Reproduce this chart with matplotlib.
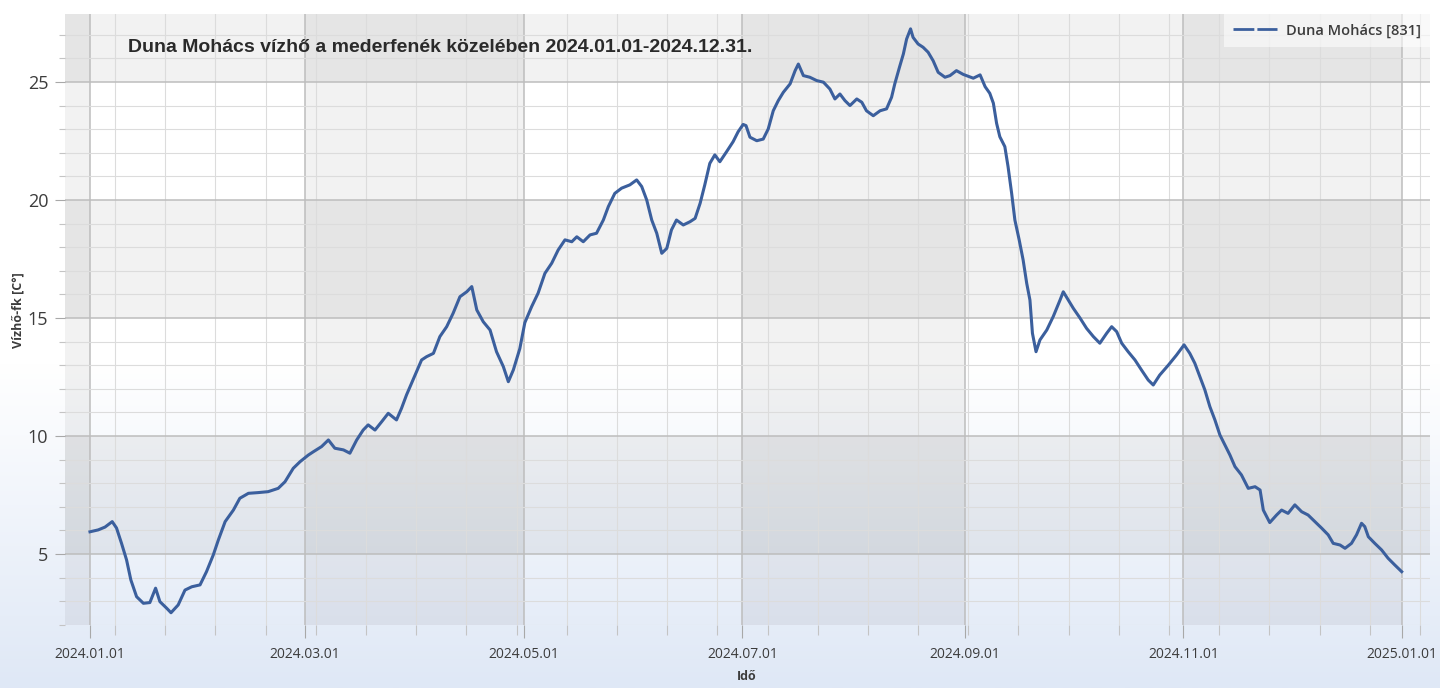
import numpy as np
import pandas as pd
import matplotlib
matplotlib.use("Agg")
import matplotlib.pyplot as plt
import matplotlib.dates as mdates
from matplotlib.colors import LinearSegmentedColormap
from matplotlib.lines import Line2D

# Duna Mohács water temperature near the riverbed, 2024
# day offset from 2024-01-01 and temperature [°C]
days = [
    0.0, 2.3, 4.2, 6.2, 7.4, 8.8, 10.2, 11.4, 13.0, 14.9, 16.7, 18.3, 19.5, 21.4,
    22.6, 24.6, 26.5, 28.4, 30.7, 32.5, 34.4, 35.8, 37.7, 40.0, 41.8, 44.2, 46.9,
    49.7, 52.5, 54.4, 56.7, 58.6, 60.9, 62.3, 64.6, 66.5, 68.3, 70.7, 72.5, 74.4,
    76.2, 77.6, 79.5, 81.4, 83.2, 85.5, 86.9, 88.3, 90.7, 92.5, 93.9, 95.8, 97.6,
    99.5, 101.3, 103.2, 105.1, 106.5, 107.9, 109.7, 111.6, 113.4, 115.3, 116.7,
    118.1, 119.9, 121.3, 123.2, 125.0, 126.9, 128.8, 130.6, 132.5, 134.4, 135.8,
    137.6, 139.5, 141.3, 143.2, 144.6, 146.4, 148.3, 150.6, 152.5, 153.9, 155.3,
    156.7, 158.1, 159.5, 160.9, 162.2, 163.6, 165.5, 167.4, 168.8, 170.2, 171.5,
    172.9, 174.3, 175.7, 177.6, 179.4, 180.8, 182.2, 183.0, 184.1, 186.0, 187.8,
    189.2, 190.6, 192.0, 193.4, 195.3, 196.7, 197.6, 199.0, 200.8, 202.7, 204.6,
    206.4, 207.8, 209.2, 210.6, 212.0, 213.9, 215.3, 216.6, 218.5, 220.4, 222.2,
    223.6, 224.5, 225.8, 226.9, 227.8, 228.9, 229.6, 231.0, 232.4, 233.8, 235.2,
    236.6, 238.5, 239.9, 241.7, 243.6, 246.4, 248.3, 249.7, 251.0, 252.0, 252.9,
    253.8, 255.2, 256.1, 257.1, 258.0, 259.2, 260.3, 261.3, 262.2, 262.9, 263.9,
    265.0, 266.9, 268.7, 270.6, 271.5, 272.9, 274.3, 276.2, 278.0, 279.9, 281.7,
    283.6, 285.0, 286.4, 287.8, 289.6, 291.5, 293.3, 295.2, 296.6, 298.4, 300.8,
    303.1, 305.2, 306.8, 308.2, 309.6, 311.0, 312.4, 313.8, 315.2, 316.6, 318.0,
    319.4, 321.2, 323.1, 325.0, 326.4, 327.3, 329.1, 331.0, 332.4, 334.2, 336.1,
    338.0, 339.8, 341.7, 343.6, 345.4, 346.8, 348.7, 350.1, 351.9, 353.3, 354.7,
    355.6, 356.6, 358.4, 360.3, 362.1, 364.0, 365.9,
]
temps = [
    5.94, 6.02, 6.14, 6.37, 6.10, 5.45, 4.75, 3.90, 3.19, 2.91, 2.94, 3.55, 2.98, 2.70,
    2.51, 2.84, 3.47, 3.61, 3.69, 4.25, 4.96, 5.59, 6.37, 6.86, 7.36, 7.57, 7.60,
    7.64, 7.78, 8.06, 8.63, 8.91, 9.19, 9.33, 9.55, 9.83, 9.48, 9.41, 9.27, 9.83,
    10.25, 10.47, 10.25, 10.61, 10.96, 10.68, 11.17, 11.74, 12.58, 13.22, 13.36, 13.50, 14.21,
    14.63, 15.20, 15.90, 16.11, 16.33, 15.34, 14.84, 14.49, 13.57, 12.94, 12.30,
    12.80, 13.70, 14.80, 15.48, 16.05, 16.89, 17.32, 17.88, 18.31, 18.23, 18.44,
    18.23, 18.52, 18.59, 19.15, 19.72, 20.28, 20.50, 20.64, 20.85, 20.57, 20.00,
    19.15, 18.59, 17.74, 17.95, 18.73, 19.15, 18.94, 19.08, 19.22, 19.86, 20.64,
    21.55, 21.91, 21.62, 22.05, 22.47, 22.89, 23.20, 23.15, 22.66, 22.51, 22.58,
    23.01, 23.78, 24.21, 24.56, 24.92, 25.48, 25.76, 25.27, 25.20, 25.06, 24.99,
    24.70, 24.28, 24.49, 24.21, 24.00, 24.28, 24.14, 23.78, 23.57, 23.78, 23.86,
    24.35, 24.92, 25.62, 26.19, 26.82, 27.25, 26.89, 26.61, 26.47, 26.26, 25.90,
    25.41, 25.20, 25.27, 25.48, 25.32, 25.16, 25.30, 24.80, 24.52, 24.10, 23.25,
    22.68, 22.26, 21.41, 20.28, 19.15, 18.31, 17.46, 16.47, 15.76, 14.35, 13.57,
    14.07, 14.49, 15.06, 15.76, 16.11, 15.76, 15.41, 14.99, 14.56, 14.21, 13.93,
    14.35, 14.63, 14.42, 13.93, 13.57, 13.22, 12.80, 12.37, 12.16, 12.58, 13.00,
    13.43, 13.86, 13.50, 13.08, 12.51, 11.95, 11.24, 10.68, 10.04, 9.62, 9.19,
    8.70, 8.35, 7.78, 7.85, 7.71, 6.86, 6.33, 6.65, 6.86, 6.72, 7.08,
    6.79, 6.65, 6.37, 6.09, 5.81, 5.45, 5.38, 5.24, 5.45, 5.81, 6.30,
    6.16, 5.73, 5.45, 5.17, 4.82, 4.53, 4.25,
]

title = "Duna Mohács vízhő a mederfenék közelében 2024.01.01-2024.12.31."
series_name = "Duna Mohács [831]"
y_label = "Vízhő-fk [C°]"
x_label = "Idő"

line_color = "#3b5f9d"
text_color = "#3c3c3c"
start = pd.Timestamp("2024-01-01")
times = start + pd.to_timedelta(days, unit="D")

fig = plt.figure(figsize=(14.4, 6.88), dpi=100, facecolor="white")

# vertical white -> light blue wash behind everything
bg = fig.add_axes([0, 0, 1, 1])
bg.set_zorder(-1)
wash = LinearSegmentedColormap.from_list(
    "wash", [(0, "#dfe8f6"), (0.47, "#ffffff"), (1, "#ffffff")])
bg.imshow(np.linspace(0, 1, 256).reshape(-1, 1), aspect="auto", cmap=wash,
          origin="lower", extent=[0, 1, 0, 1])
bg.axis("off")

ax_left, ax_top, ax_w, ax_h = 65, 14, 1365, 611
ax = fig.add_axes([ax_left / 1440, 1 - (ax_top + ax_h) / 688, ax_w / 1440, ax_h / 688])
ax.set_facecolor("none")

x0 = start - pd.Timedelta(days=6.97)
x1 = start + pd.Timedelta(days=373.8)
ax.set_xlim(x0, x1)
ax.set_ylim(1.99, 27.88)

# alternating shaded columns (2 months) and rows (5 degrees)
edges = [x0] + list(pd.date_range("2024-01-01", "2025-01-01", freq="2MS")) + [x1]
for i in range(len(edges) - 1):
    if i % 2 == 0:
        ax.axvspan(edges[i], edges[i + 1], color="black", alpha=0.05, lw=0, zorder=0)
for lo, hi in [(5, 10), (15, 20), (25, 27.88)]:
    ax.axhspan(lo, hi, color="black", alpha=0.05, lw=0, zorder=0)

ax.xaxis.set_major_locator(mdates.MonthLocator(bymonth=[1, 3, 5, 7, 9, 11]))
ax.xaxis.set_major_formatter(mdates.DateFormatter("%Y.%m.%d"))
minor_dates = pd.date_range("2023-12-25", "2025-01-10", freq="14D")
ax.xaxis.set_minor_locator(matplotlib.ticker.FixedLocator(mdates.date2num(minor_dates)))
ax.yaxis.set_major_locator(matplotlib.ticker.MultipleLocator(5))
ax.yaxis.set_minor_locator(matplotlib.ticker.MultipleLocator(1))

ax.grid(which="major", color="#bdbdbd", lw=1.1, zorder=1)
ax.grid(which="minor", color="#dcdcdc", lw=0.8, zorder=1)
ax.set_axisbelow(True)

for s in ax.spines.values():
    s.set_visible(False)

ax.tick_params(axis="x", which="major", length=9, width=0.8, color="#a8a8a8",
               pad=7, labelsize=10, labelcolor=text_color)
ax.tick_params(axis="x", which="minor", length=7, width=0.8, color="#c4c4c4")
ax.tick_params(axis="y", which="major", length=7, width=0.8, color="#a8a8a8",
               pad=5, labelsize=13, labelcolor=text_color)
ax.tick_params(axis="y", which="minor", length=4, width=0.8, color="#c4c4c4")
for lbl in ax.get_xticklabels() + ax.get_yticklabels():
    lbl.set_fontfamily("Open Sans")

ax.plot(times, temps, color=line_color, lw=2.2, zorder=3)

ax.text((128 - ax_left) / ax_w, 1 - (47 - ax_top) / ax_h, title, transform=ax.transAxes,
        fontsize=14, fontweight="bold", family="Liberation Sans",
        color="#2a2a2a", va="center", ha="left", zorder=4)

fig.text(18 / 1440, 1 - 310 / 688, y_label, rotation=90, ha="center", va="center",
         fontsize=9, fontweight="bold", family="Open Sans", color=text_color)
fig.text(747 / 1440, 1 - 677 / 688, x_label, ha="center", va="center",
         fontsize=9, fontweight="bold", family="Open Sans", color=text_color)

handle = Line2D([], [], color=line_color, lw=2.0, linestyle=(0, (7.5, 1.1)))
leg = ax.legend([handle], [series_name], loc="upper right", borderaxespad=0,
                frameon=True, fancybox=False, handlelength=3.0, handletextpad=0.6,
                borderpad=0.65, prop={"family": "Open Sans", "weight": "semibold",
                                      "size": 10.5})
leg.get_frame().set_facecolor("white")
leg.get_frame().set_alpha(0.55)
leg.get_frame().set_linewidth(0)
for t in leg.get_texts():
    t.set_color(text_color)

fig.savefig("out.png", dpi=100)
